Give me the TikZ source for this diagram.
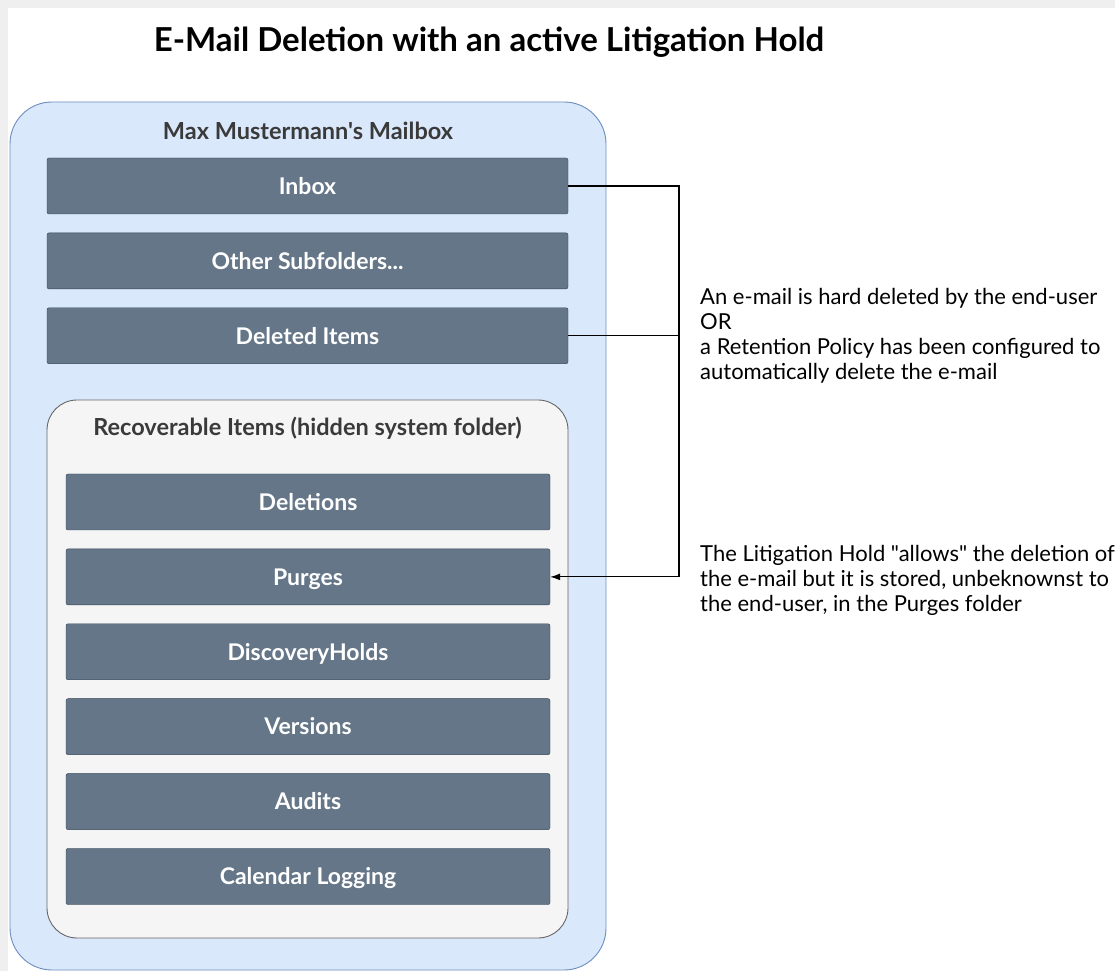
\documentclass[tikz,border=0pt]{standalone}
\usepackage{fontspec}
\setmainfont{Lato}[Ligatures=TeXOff]
\usepackage{xcolor}
\usepackage{tikz}
\usetikzlibrary{arrows.meta, positioning}
\definecolor{BoxBlue}{HTML}{DAE8FC}
\definecolor{BoxBlueLine}{HTML}{6C8EBF}
\definecolor{SlateFill}{HTML}{647687}
\definecolor{SlateLine}{HTML}{314354}
\definecolor{PaleGrey}{HTML}{F5F5F5}
\definecolor{EdgeGrey}{HTML}{666666}
\definecolor{FrameGrey}{HTML}{EFEFEF}
\definecolor{LabelGrey}{HTML}{3A3A3A}

\begin{document}
\begin{tikzpicture}[x=1pt, y=1pt, node distance=18.5pt,
    folder/.style={draw=SlateLine, fill=SlateFill, rounded corners=2pt, text=white,
      font=\fontsize{23}{26}\selectfont\bfseries, minimum height=56pt, inner sep=0pt,
      text height=16.5pt, text depth=0pt},
    outerfolder/.style={folder, minimum width=521pt},
    innerfolder/.style={folder, minimum width=484pt},
    boxlabel/.style={text=LabelGrey, font=\fontsize{23.5}{26}\selectfont\bfseries,
      inner sep=0pt, text height=16.5pt, text depth=0pt},
    note/.style={anchor=west, align=left, inner sep=0pt, font=\fontsize{22}{25}\selectfont},
    flow/.style={draw=black, line width=1.1pt}]
  \useasboundingbox (0,0) rectangle (1115,971);
  \fill[FrameGrey] (0,0) rectangle (1115,971);
  \fill[white] (8,0) rectangle (1115,963);

  \node (title) [anchor=base, inner sep=0pt] at (489,919) {\fontsize{33}{36}\selectfont\bfseries E-Mail Deletion with an active Litigation Hold};

  % mailbox
  \node (mbx) [draw=BoxBlueLine, fill=BoxBlue, rounded corners=42pt, line width=0.9pt,
    minimum width=596pt, minimum height=868pt] at (308,435) {};
  \node (mbxlabel) [boxlabel] at (308,840) {Max Mustermann's Mailbox};
  \node (inbox) [outerfolder] at (307.5,785) {Inbox};
  \node (other) [outerfolder, below=of inbox] {Other Subfolders...};
  \node (deleted) [outerfolder, below=of other] {Deleted Items};

  % recoverable items
  \node (recov) [draw=EdgeGrey, fill=PaleGrey, rounded corners=30pt, line width=0.9pt,
    minimum width=521pt, minimum height=538pt] at (307.5,302) {};
  \node (recovlabel) [boxlabel] at (307.5,544) {Recoverable Items (hidden system folder)};
  \node (deletions) [innerfolder] at (308,469) {Deletions};
  \node (purges) [innerfolder, below=of deletions] {Purges};
  \node (discovery) [innerfolder, below=of purges] {DiscoveryHolds};
  \node (versions) [innerfolder, below=of discovery] {Versions};
  \node (audits) [innerfolder, below=of versions] {Audits};
  \node (calendar) [innerfolder, below=of audits] {Calendar Logging};

  \node (hardnote) [note] at (700,635) {An e-mail is hard deleted by the end-user\\OR\\a Retention Policy has been configured to\\automatically delete the e-mail};
  \node (holdnote) [note] at (700,391) {The Litigation Hold "allows" the deletion of\\the e-mail but it is stored, unbeknownst to\\the end-user, in the Purges folder};

  \coordinate (bend) at (679,785);
  \draw[flow, -{Latex[length=10pt,width=7pt]}] (inbox.east) -- (bend) |- (purges.east);
  \draw[flow] (deleted.east) -- (deleted.east -| bend);
\end{tikzpicture}
\end{document}
